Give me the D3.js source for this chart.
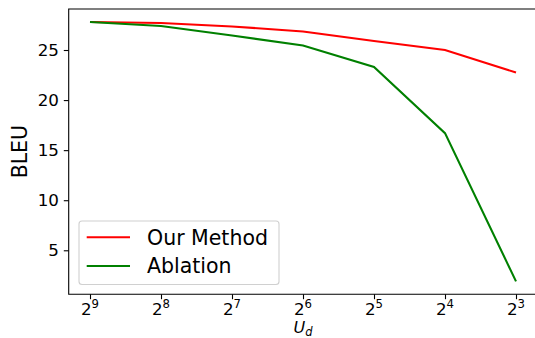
<!DOCTYPE html>
<html>
<head>
<meta charset="utf-8">
<script src="https://d3js.org/d3.v7.min.js"></script>
<style>
  body { margin: 0; background: #fff; }
  text { font-family: "DejaVu Sans", sans-serif; fill: #000; }
</style>
</head>
<body>
<div id="main"></div>
<script>
const W = 535, H = 338;
const margin = {top: 9, left: 68.7, right: 537.3, bottom: 294.3};

// exponents of U_d, left to right
const exponents = [9, 8, 7, 6, 5, 4, 3];
const ourMethod = [27.8, 27.7, 27.35, 26.85, 25.9, 25.0, 22.75];
const ablation  = [27.8, 27.4, 26.45, 25.45, 23.3, 16.7, 1.9];
const yTicks = [5, 10, 15, 20, 25];
const seriesNames = ["Our Method", "Ablation"];
const seriesColors = ["#ff0000", "#008000"];

const svg = d3.select("#main").append("svg")
    .attr("width", W).attr("height", H);

// x: index positions with matplotlib-like 5% padding
const n = exponents.length;
const xScale = d3.scaleLinear()
    .domain([-0.05 * (n - 1), (n - 1) * 1.05])
    .range([margin.left, margin.right]);

const allVals = ourMethod.concat(ablation);
const yMin = d3.min(allVals), yMax = d3.max(allVals);
const pad = (yMax - yMin) * 0.05;
const yScale = d3.scaleLinear()
    .domain([yMin - pad, yMax + pad])
    .range([margin.bottom, margin.top]);

// lines
const line = d3.line()
    .x((d, i) => xScale(i))
    .y(d => yScale(d));

[ourMethod, ablation].forEach((s, k) => {
    svg.append("path")
        .datum(s)
        .attr("d", line)
        .attr("fill", "none")
        .attr("stroke", seriesColors[k])
        .attr("stroke-width", 2.1);
});

// y axis
const yAxis = d3.axisLeft(yScale).tickValues(yTicks).tickSize(4.9).tickPadding(4.9);
const gy = svg.append("g")
    .attr("transform", `translate(${margin.left},0)`)
    .call(yAxis);
gy.select(".domain").remove();
gy.selectAll("line").attr("stroke", "#000").attr("stroke-width", 1.1);
gy.selectAll("text")
    .style("font-family", "DejaVu Sans")
    .style("font-size", "16.7px")
    .attr("fill", "#000");

// x axis with 2^n labels
const xAxis = d3.axisBottom(xScale).tickValues(d3.range(n)).tickSize(4.9).tickFormat("");
const gx = svg.append("g")
    .attr("transform", `translate(0,${margin.bottom})`)
    .call(xAxis);
gx.select(".domain").remove();
gx.selectAll("line").attr("stroke", "#000").attr("stroke-width", 1.1);

exponents.forEach((e, i) => {
    const t = svg.append("text")
        .attr("x", xScale(i))
        .attr("y", 315)
        .attr("text-anchor", "middle")
        .style("font-size", "16.7px");
    t.append("tspan").text("2");
    t.append("tspan")
        .attr("dy", -7)
        .style("font-size", "11.7px")
        .text(e);
});

// spines (left, bottom, top; right is off-canvas)
svg.append("path")
    .attr("d", `M${margin.right},${margin.top}H${margin.left}V${margin.bottom}H${margin.right}`)
    .attr("fill", "none")
    .attr("stroke", "#000")
    .attr("stroke-width", 1.1);

// axis labels
svg.append("text")
    .attr("transform", `translate(26.5,${(margin.top + margin.bottom) / 2}) rotate(-90)`)
    .attr("text-anchor", "middle")
    .style("font-size", "20.5px")
    .text("BLEU");

const xl = svg.append("text")
    .attr("x", (margin.left + margin.right) / 2)
    .attr("y", 333)
    .attr("text-anchor", "middle")
    .style("font-size", "16px")
    .style("font-style", "italic");
xl.append("tspan").text("U");
xl.append("tspan").attr("dy", 2.5).style("font-size", "11.5px").text("d");

// legend
const lg = svg.append("g");
lg.append("rect")
    .attr("x", 79).attr("y", 221)
    .attr("width", 200).attr("height", 63.5)
    .attr("rx", 3)
    .attr("fill", "#fff").attr("fill-opacity", 0.8)
    .attr("stroke", "#d0d0d0").attr("stroke-width", 1.1);
seriesNames.forEach((name, k) => {
    const y = 237.3 + k * 28.7;
    lg.append("line")
        .attr("x1", 86.7).attr("x2", 130)
        .attr("y1", y).attr("y2", y)
        .attr("stroke", seriesColors[k]).attr("stroke-width", 2.1);
    lg.append("text")
        .attr("x", 147)
        .attr("y", y + 7.2)
        .style("font-size", "20.5px")
        .text(name);
});
</script>
</body>
</html>
